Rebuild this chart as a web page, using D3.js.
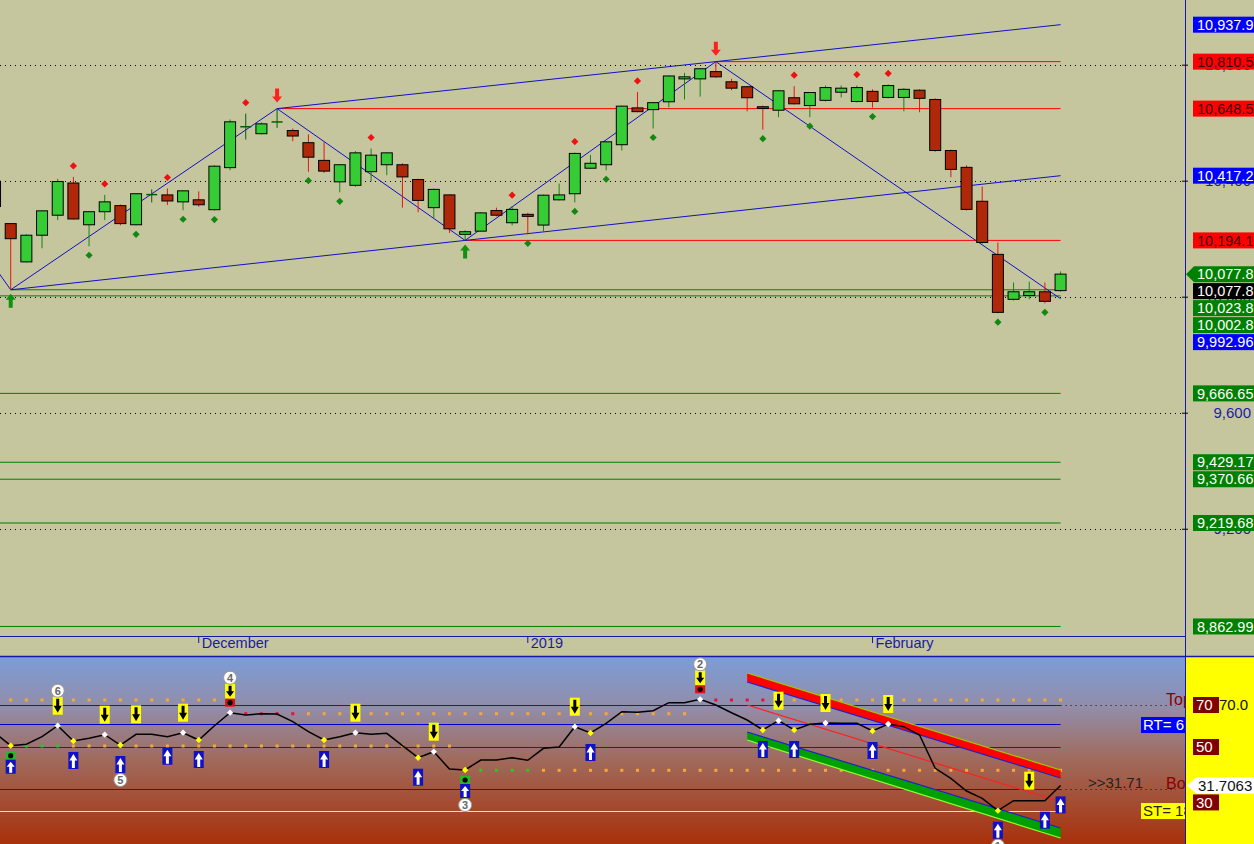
<!DOCTYPE html>
<html><head><meta charset="utf-8">
<script src="https://cdn.jsdelivr.net/npm/d3@7/dist/d3.min.js"></script>
<style>html,body{margin:0;padding:0;background:#c6c69e;overflow:hidden}svg{display:block;font-family:"Liberation Sans",Arial,sans-serif}</style>
</head><body><svg id="chart" width="1254" height="844"></svg>
<script>
// ---------------- DATA ----------------
const dates = ["2018-11-14","2018-11-15","2018-11-16","2018-11-19","2018-11-20","2018-11-21","2018-11-22","2018-11-23","2018-11-26","2018-11-27","2018-11-28","2018-11-29","2018-11-30",
"2018-12-03","2018-12-04","2018-12-05","2018-12-06","2018-12-07","2018-12-10","2018-12-11","2018-12-12","2018-12-13","2018-12-14","2018-12-17","2018-12-18","2018-12-19","2018-12-20","2018-12-21","2018-12-24","2018-12-25","2018-12-26","2018-12-27","2018-12-28","2018-12-31",
"2019-01-02","2019-01-03","2019-01-04","2019-01-07","2019-01-08","2019-01-09","2019-01-10","2019-01-11","2019-01-14","2019-01-15","2019-01-16","2019-01-17","2019-01-18","2019-01-21","2019-01-22","2019-01-23","2019-01-24","2019-01-25","2019-01-28","2019-01-29","2019-01-30","2019-01-31",
"2019-02-01","2019-02-04","2019-02-05","2019-02-06","2019-02-07","2019-02-08","2019-02-11","2019-02-12","2019-02-13","2019-02-14","2019-02-15","2019-02-18","2019-02-19"];
const opens  = [10311,10252,10120,10212,10281,10392,10248,10293,10314,10248,10351,10351,10327,10334,10300,10445,10585,10562,10601,10573,10531,10470,10396,10384,10431,10455,10455,10404,10307,10351,10215,10226,10297,10255,10284,10247,10334,10355,10443,10455,10524,10651,10645,10672,10751,10751,10776,10741,10724,10655,10643,10686,10659,10677,10705,10673,10708,10687,10687,10712,10680,10504,10446,10329,10146,9991,10004,10017,10021];
const highs  = [10405,10253,10215,10297,10406,10413,10294,10351,10318,10356,10370,10373,10366,10363,10453,10611,10631,10601,10648.5,10580,10560,10533,10456,10502,10511,10497,10460,10407,10373,10352,10229,10291,10307,10312,10289,10352,10390,10497,10489,10535,10659,10706,10670,10763,10772,10787,10810.5,10751,10726,10659,10712,10726,10705,10728,10728,10728,10715,10732,10719,10715,10684,10507,10453,10380,10187,10049,10052,10049,10087];
const lows   = [10306,10023.8,10118,10167,10264,10266,10174,10264,10246,10246,10325,10316,10298,10310,10297,10436,10542,10560,10582,10536,10431,10427,10360,10379,10398,10419,10307,10291,10272,10220,10194.1,10225,10277,10246,10215,10226,10332,10325,10442,10436,10504,10636,10580,10653,10680,10690,10755,10712,10639,10576,10619,10663,10619,10673,10687,10670,10652,10684,10639,10636,10500,10412,10297,10183,9943,9987,9991,9977,10017];
const closes = [10398,10200,10212,10296,10397,10268,10293,10327,10252,10355,10353,10330,10365,10317,10450,10603,10587,10596,10604,10554,10481,10433,10455,10496,10488,10496,10413,10332,10370,10234,10224,10289,10281,10301,10277,10350,10351,10494,10460,10534,10657,10638,10669,10761,10758,10786,10758,10719,10686,10649,10710,10665,10704,10721,10719,10721,10673,10728,10715,10684,10504,10439,10301,10187,9946,10017,10017,9984,10077.8];

// fractal markers (positions in dates[])
const highMarkIdx = [5,7,11,16,24,33,37,41,51,55,57];
const lowMarkIdx  = [6,9,12,14,20,22,34,37,39,42,49,52,56,64,67];
const pivotUpIdx = [1,30];
const pivotDownIdx = [18,46];

// zigzag & channel
const zigIdx = [0,1,18,30,46,68];
const zigVal = [10100,10023.8,10648.5,10194.1,10810.5,9992.96];
const chanLowIdx = [1,68], chanLowVal = [10023.8,10417.2];
const chanHighIdx = [18,68], chanHighVal = [10648.5,10937.9];
const redLevels = [10810.5,10648.5,10194.1];
const redLevelFrom = [46,18,30];
const greenLevels = [10023.8,10002.8,9666.65,9429.17,9370.66,9219.68,8862.99];
const greenLevelFrom = [1,0,0,0,0,0,0];
const priceTicks = [9200,9600,10000,10400,10800];
const dateTicks = ["2018-12-03","2019-01-02","2019-02-01"];
const dateTickLabels = ["December","2019","February"];

const labelVals  = [10937.9,10810.5,10648.5,10417.2,10194.1,10077.8,10077.8,10023.8,10002.8,9992.96,9666.65,9429.17,9370.66,9219.68,8862.99];
const labelTexts = ["10,937.9","10,810.5","10,648.5","10,417.2","10,194.1","10,077.8","10,077.8","10,023.8","10,002.8","9,992.96","9,666.65","9,429.17","9,370.66","9,219.68","8,862.99"];
const labelKinds = ["blue","red","red","blue","red","last","black","green","green","blue","green","green","green","green","green"];

// oscillator
const osc = [56.67,50.62,51.29,54.9,60.14,52.86,54.14,55.86,50.95,56.05,56.05,54.9,56.81,53.33,60.14,66.33,65.24,65.86,65.71,62.05,57.29,53.33,54.9,56.81,56.05,56.52,50.62,44.9,47.76,39.52,39.05,43.81,43.81,44.9,43.67,49.38,50,59.67,56.67,61.29,66.81,66.52,67.29,71.1,71.1,72.71,70,66.33,62.86,58.1,62.52,58.1,60.81,61.43,61.29,61.29,57.62,60.95,59.67,55.71,39.86,35.1,29.05,25.57,19.67,24.43,24.43,24.43,31.7063];
const oscPeakIdx = [4,7,12,15,23,28,37,45,50,53,57];
const oscTroughIdx = [1,5,8,13,21,27,30,38,49,51,56,64];
const sellIdx = [4,7,9,12,15,23,28,37,45,50,53,57,66];
const sellStrong = [15,45];
const buyIdx = [1,5,8,11,13,21,27,30,38,49,51,56,64,67,68];
const buyStrong = [1,30];
const countAbove = [[4,"6"],[15,"4"],[45,"2"]];
const countBelow = [[8,"5"],[30,"3"],[64,"1"]];
const upperLevel = [72.38,72.38,72.38,72.38,72.38,72.38,72.38,72.38,72.38,72.38,72.38,72.38,72.38,72.38,72.38,null,
 65.86,65.86,65.86,65.86,65.86,65.86,65.86,65.86,65.86,65.86,65.86,65.86,65.86,65.86,65.86,65.86,65.86,65.86,65.86,65.86,65.86,65.86,65.86,65.86,65.86,65.86,65.86,65.86,65.86,null,
 72.38,72.38,72.38,72.38,72.38,72.38,72.38,72.38,72.38,72.38,72.38,72.38,72.38,72.38,72.38,72.38,72.38,72.38,72.38,72.38,72.38,72.38,72.38];
const upperRed = [16,17,18,19,46,47,48,49];
const lowerLevel = [null,null,50.48,50.48,50.48,50.48,50.48,50.48,50.48,50.48,50.48,50.48,50.48,50.48,50.48,50.48,50.48,50.48,50.48,50.48,50.48,50.48,50.48,50.48,50.48,50.48,50.48,50.48,50.48,50.48,null,
 38.9,38.9,38.9,38.9,38.9,38.9,38.9,38.9,38.9,38.9,38.9,38.9,38.9,38.9,38.9,38.9,38.9,38.9,38.9,38.9,38.9,38.9,38.9,38.9,38.9,38.9,38.9,38.9,38.9,38.9,38.9,38.9,38.9,38.9,38.9,38.9,38.9,38.9];
const lowerGreen = [2,3,4,31,32,33,34];
const oscLines = [70,60.95,50,30,19.52];
const oscLineKinds = ["dred","blue","dred","dred","yellow"];
const bandIdx = [48,68];
const redBandTop = [85.24,39.05], redBandBot = [80.95,35.24];
const greenBandTop = [57.14,11.43], greenBandBot = [53.33,6.67];
const midLine = [70,23.95];

// ---------------- CHART ----------------
const svg = d3.select("#chart");
const PR = 1185, MB = 636, OT = 657, OB = 844;
const x = d3.scaleBand().domain(dates).range([-12.8,1068.4]).padding(0);
const cx = i => x(dates[i]) + x.bandwidth()/2;
const y = d3.scaleLinear().domain([8830.1,11023.0]).range([MB,0]);
const yo = d3.scaleLinear().domain([3.81,92.86]).range([OB,OT]);
const FONT = '"Liberation Sans",Arial,sans-serif';

const defs = svg.append("defs");
defs.append("clipPath").attr("id","cm").append("rect").attr("x",0).attr("y",0).attr("width",PR).attr("height",MB);
defs.append("clipPath").attr("id","co").append("rect").attr("x",0).attr("y",OT).attr("width",PR).attr("height",OB-OT);
const gr = defs.append("linearGradient").attr("id","og").attr("x1",0).attr("y1",0).attr("x2",0).attr("y2",1);
[[0,"#7b9dd9"],[0.28,"#938ca6"],[0.55,"#a06a5c"],[1,"#a8300a"]].forEach(s=>gr.append("stop").attr("offset",s[0]).attr("stop-color",s[1]));

svg.append("rect").attr("width",1254).attr("height",844).attr("fill","#c6c69e");
svg.append("rect").attr("x",0).attr("y",OT).attr("width",PR).attr("height",OB-OT).attr("fill","url(#og)");
svg.append("rect").attr("x",PR).attr("y",OT).attr("width",1254-PR).attr("height",OB-OT).attr("fill","#ffff00");

// ---- main panel
const gm = svg.append("g").attr("clip-path","url(#cm)");
greenLevels.forEach((v,i)=>gm.append("line").attr("x1",cx(greenLevelFrom[i])).attr("x2",cx(68)).attr("y1",y(v)).attr("y2",y(v)).attr("stroke","#008000").attr("stroke-width",1));
redLevels.forEach((v,i)=>gm.append("line").attr("x1",cx(redLevelFrom[i])).attr("x2",cx(68)).attr("y1",y(v)).attr("y2",y(v)).attr("stroke","#ff0000").attr("stroke-width",1));
priceTicks.forEach(v=>gm.append("line").attr("x1",0).attr("x2",PR).attr("y1",Math.round(y(v))+0.5).attr("y2",Math.round(y(v))+0.5).attr("stroke","#000").attr("stroke-dasharray","1,4"));

const line = d3.line().x(d=>cx(d[0])).y(d=>y(d[1]));
gm.append("path").attr("d",line(chanLowIdx.map((k,i)=>[k,chanLowVal[i]]))).attr("stroke","#1010c8").attr("fill","none");
gm.append("path").attr("d",line(chanHighIdx.map((k,i)=>[k,chanHighVal[i]]))).attr("stroke","#1010c8").attr("fill","none");
gm.append("path").attr("d",line(zigIdx.map((k,i)=>[k,zigVal[i]]))).attr("stroke","#1010c8").attr("fill","none");

const bw = 11;
dates.forEach((d,i)=>{
  const o=opens[i], c=closes[i], h=highs[i], l=lows[i];
  const up = c>=o;
  const X = cx(i);
  const yt = y(Math.max(o,c)), yb = y(Math.min(o,c));
  if (yb-yt < 1.2) {
    gm.append("line").attr("x1",X).attr("x2",X).attr("y1",y(h)).attr("y2",y(l)).attr("stroke","#006000");
    gm.append("line").attr("x1",X-bw/2).attr("x2",X+bw/2).attr("y1",(yt+yb)/2).attr("y2",(yt+yb)/2).attr("stroke","#006000").attr("stroke-width",1.5);
  } else {
    gm.append("line").attr("x1",X).attr("x2",X).attr("y1",y(h)).attr("y2",y(l)).attr("stroke",up?"#118811":"#ee1111");
    gm.append("rect").attr("x",X-bw/2).attr("y",yt).attr("width",bw).attr("height",yb-yt)
      .attr("fill",up?"#35cc35":"#b0280a").attr("stroke","#000").attr("stroke-width",1);
  }
});
const dotSym = d3.symbol().type(d3.symbolSquare).size(26);
const smallSym = d3.symbol().type(d3.symbolSquare).size(20);
highMarkIdx.forEach(i=>gm.append("path").attr("d",dotSym).attr("transform",`translate(${cx(i)},${y(highs[i])-11}) rotate(45)`).attr("fill","#ee1111"));
lowMarkIdx.forEach(i=>gm.append("path").attr("d",dotSym).attr("transform",`translate(${cx(i)},${y(lows[i])+9}) rotate(45)`).attr("fill","#118811"));
const upArrow = (X,t)=>`M${X},${t}L${X+5},${t+6}L${X+2},${t+6}L${X+2},${t+14}L${X-2},${t+14}L${X-2},${t+6}L${X-5},${t+6}Z`;
const dnArrow = (X,t)=>`M${X},${t}L${X+5},${t-6}L${X+2},${t-6}L${X+2},${t-14}L${X-2},${t-14}L${X-2},${t-6}L${X-5},${t-6}Z`;
pivotUpIdx.forEach(i=>gm.append("path").attr("d",upArrow(cx(i),y(lows[i])+4)).attr("fill","#119011"));
pivotDownIdx.forEach(i=>gm.append("path").attr("d",dnArrow(cx(i),y(highs[i])-6)).attr("fill","#ff2020"));

// frame lines
svg.append("line").attr("x1",0).attr("x2",PR).attr("y1",MB+0.5).attr("y2",MB+0.5).attr("stroke","#1818a8");
svg.append("line").attr("x1",0).attr("x2",1254).attr("y1",656.5).attr("y2",656.5).attr("stroke","#1818a8").attr("stroke-width",1.5);
svg.append("line").attr("x1",PR+0.5).attr("x2",PR+0.5).attr("y1",0).attr("y2",844).attr("stroke","#1818a8");

// price axis
const yAxis = d3.axisRight(y).tickValues(priceTicks).tickFormat(d3.format(",")).tickSize(6);
const gy = svg.append("g").attr("transform","translate(1182,0)").call(yAxis);
gy.select(".domain").remove();
gy.selectAll(".tick line").attr("stroke","#000");
gy.selectAll(".tick text").attr("x",69).attr("text-anchor","end").attr("fill","#1a1ab0").style("font-size","15px").style("font-family",FONT);

// date axis
const xAxis = d3.axisBottom(x).tickValues(dateTicks).tickFormat((d,i)=>dateTickLabels[i]).tickSize(6);
const gx = svg.append("g").attr("transform","translate(0,637)").call(xAxis);
gx.select(".domain").remove();
gx.selectAll(".tick line").attr("stroke","#1818a8");
gx.selectAll(".tick text").attr("text-anchor","start").attr("x",3).attr("y",1).attr("dy","0.71em").attr("fill","#1a1aa8").style("font-size","14.5px").style("font-family",FONT);

// price labels with collision push
const kindStyle = {blue:["#0000ff","#ffffff"],red:["#ff0000","#3a0000"],green:["#008000","#ffffff"],black:["#000000","#ffffff"],last:["#008000","#ffffff"]};
let lastY = -1e9;
const placed = labelVals.map((v,i)=>({v,i,y:y(v)})).sort((a,b)=>a.y-b.y);
placed.forEach(p=>{ if (p.y < lastY+17) p.y = lastY+17; lastY = p.y; });
placed.forEach(p=>{
  const [bg,fg] = kindStyle[labelKinds[p.i]];
  const yc = p.y;
  if (labelKinds[p.i]==="last") {
    svg.append("path").attr("d",`M${PR+1},${yc}L1194,${yc-8}L1254,${yc-8}L1254,${yc+8}L1194,${yc+8}Z`).attr("fill",bg);
  } else {
    svg.append("rect").attr("x",1193).attr("y",yc-8).attr("width",61).attr("height",16).attr("fill",bg);
  }
  svg.append("text").attr("x",1197).attr("y",yc).attr("dy","0.36em").attr("fill",fg).style("font-size","14.5px").style("font-family",FONT).text(labelTexts[p.i]);
});

// ---- oscillator panel
const go = svg.append("g").attr("clip-path","url(#co)");
const oscCol = {dred:"#8a0000",blue:"#0000d0",yellow:"#ffff00"};
oscLines.forEach((v,i)=>go.append("line").attr("x1",0).attr("x2",cx(68)).attr("y1",Math.round(yo(v))+0.5).attr("y2",Math.round(yo(v))+0.5).attr("stroke",oscCol[oscLineKinds[i]]).attr("stroke-width",1.2));
[70,30].forEach(v=>go.append("line").attr("x1",cx(68)).attr("x2",1176).attr("y1",Math.round(yo(v))+0.5).attr("y2",Math.round(yo(v))+0.5).attr("stroke","#111").attr("stroke-dasharray","1,4"));

upperLevel.forEach((v,i)=>{ if(v===null) return;
  go.append("rect").attr("x",cx(i)-1.5).attr("y",yo(v)-1.5).attr("width",3).attr("height",3).attr("fill",upperRed.includes(i)?"#e8103a":"#f8a830"); });
lowerLevel.forEach((v,i)=>{ if(v===null) return;
  go.append("rect").attr("x",cx(i)-1.5).attr("y",yo(v)-1.5).attr("width",3).attr("height",3).attr("fill",lowerGreen.includes(i)?"#22cc22":"#f8a830"); });

const band = (top,bot,fill,topC,botC)=>{
  const x0=cx(bandIdx[0]), x1=cx(bandIdx[1]);
  go.append("path").attr("d",`M${x0},${yo(top[0])}L${x1},${yo(top[1])}L${x1},${yo(bot[1])}L${x0},${yo(bot[0])}Z`).attr("fill",fill);
  go.append("line").attr("x1",x0).attr("x2",x1).attr("y1",yo(top[0])).attr("y2",yo(top[1])).attr("stroke",topC).attr("stroke-width",1.2);
  go.append("line").attr("x1",x0).attr("x2",x1).attr("y1",yo(bot[0])).attr("y2",yo(bot[1])).attr("stroke",botC).attr("stroke-width",1.2);
};
band(redBandTop,redBandBot,"#ff0000","#9ccc00","#2020d0");
band(greenBandTop,greenBandBot,"#00a000","#2020d0","#90ff30");
go.append("line").attr("x1",cx(bandIdx[0])).attr("x2",cx(bandIdx[1])).attr("y1",yo(midLine[0])).attr("y2",yo(midLine[1])).attr("stroke","#ff2020").attr("stroke-width",1.2);

go.append("path").attr("d",d3.line().x((d,i)=>cx(i)).y(d=>yo(d))(osc)).attr("fill","none").attr("stroke","#000").attr("stroke-width",1.5);
oscPeakIdx.forEach(i=>go.append("path").attr("d",smallSym).attr("transform",`translate(${cx(i)},${yo(osc[i])}) rotate(45)`).attr("fill","#ffffff"));
oscTroughIdx.forEach(i=>go.append("path").attr("d",smallSym).attr("transform",`translate(${cx(i)},${yo(osc[i])}) rotate(45)`).attr("fill","#ffff00"));

const sellArrow=(X,t,b)=>{const m=(t+b)/2+1;return `M${X-1.5},${t+2}L${X+1.5},${t+2}L${X+1.5},${m-1}L${X+4},${m-1}L${X},${b-2}L${X-4},${m-1}L${X-1.5},${m-1}Z`;};
const buyArrow=(X,t,b)=>{const m=(t+b)/2-1;return `M${X-1.5},${b-1}L${X+1.5},${b-1}L${X+1.5},${m+1}L${X+4},${m+1}L${X},${t+2}L${X-4},${m+1}L${X-1.5},${m+1}Z`;};
sellIdx.forEach(i=>{
  const X=cx(i), p=yo(osc[i]);
  if (sellStrong.includes(i)) {
    go.append("rect").attr("x",X-5).attr("y",p-29).attr("width",10).attr("height",15).attr("fill","#ffff00");
    go.append("path").attr("d",sellArrow(X,p-29,p-14)).attr("fill","#000");
    go.append("rect").attr("x",X-5).attr("y",p-14).attr("width",10).attr("height",8).attr("fill","#dd1111");
    go.append("circle").attr("cx",X).attr("cy",p-10).attr("r",2.6).attr("fill","#000");
  } else {
    go.append("rect").attr("x",X-5).attr("y",p-29).attr("width",10).attr("height",18).attr("fill","#ffff00");
    go.append("path").attr("d",sellArrow(X,p-29,p-11)).attr("fill","#000");
  }
});
buyIdx.forEach(i=>{
  const X=cx(i), p=yo(osc[i]);
  if (buyStrong.includes(i)) {
    go.append("rect").attr("x",X-5).attr("y",p+6).attr("width",10).attr("height",8).attr("fill","#22bb22");
    go.append("circle").attr("cx",X).attr("cy",p+10).attr("r",2.6).attr("fill","#000");
    go.append("rect").attr("x",X-5).attr("y",p+14).attr("width",10).attr("height",14).attr("fill","#1010c8");
    go.append("path").attr("d",buyArrow(X,p+14,p+28)).attr("fill","#fff");
  } else {
    go.append("rect").attr("x",X-5).attr("y",p+11).attr("width",10).attr("height",17).attr("fill","#1010c8");
    go.append("path").attr("d",buyArrow(X,p+11,p+28)).attr("fill","#fff");
  }
});
const countMark=(i,t,dy)=>{
  const X=cx(i), Y=yo(osc[i])+dy;
  go.append("circle").attr("cx",X).attr("cy",Y).attr("r",6.5).attr("fill","#fff").attr("stroke","#999").attr("stroke-width",1);
  go.append("text").attr("x",X).attr("y",Y).attr("dy","0.36em").attr("text-anchor","middle").attr("fill","#666").style("font-size","11px").style("font-weight","bold").style("font-family",FONT).text(t);
};
countAbove.forEach(c=>countMark(c[0],c[1],-35));
countBelow.forEach(c=>countMark(c[0],c[1],35));

// left-side text tags
go.append("text").attr("x",1166).attr("y",yo(70)).attr("fill","#8a0000").style("font-size","16px").style("font-family",FONT).text("Top");
go.append("text").attr("x",1166).attr("y",yo(30)).attr("fill","#8a0000").style("font-size","16px").style("font-family",FONT).text("Bottom");
go.append("text").attr("x",1088).attr("y",yo(30)-1).attr("fill","#222").style("font-size","15px").style("font-family",FONT).text(">>31.71");
go.append("rect").attr("x",1141).attr("y",yo(60.95)-7).attr("width",50).attr("height",16).attr("fill","#0000ff");
go.append("text").attr("x",1143).attr("y",yo(60.95)+1).attr("dy","0.36em").attr("fill","#fff").style("font-size","15px").style("font-family",FONT).text("RT= 61");
go.append("rect").attr("x",1141).attr("y",yo(19.52)-8).attr("width",50).attr("height",16).attr("fill","#ffff00");
go.append("text").attr("x",1143).attr("y",yo(19.52)).attr("dy","0.36em").attr("fill","#222").style("font-size","15px").style("font-family",FONT).text("ST= 18");

// right strip osc labels
const oy = v=>yo(v);
svg.append("text").attr("x",1219).attr("y",oy(70)).attr("dy","0.36em").attr("fill","#111").style("font-size","15px").style("font-family",FONT).text("70.0");
const oscBox=(yc,t)=>{svg.append("rect").attr("x",1193).attr("y",yc-8).attr("width",26).attr("height",16).attr("fill","#800000");
  svg.append("text").attr("x",1196).attr("y",yc).attr("dy","0.36em").attr("fill","#fff").style("font-size","15px").style("font-family",FONT).text(t);};
oscBox(oy(70),"70");
oscBox(oy(50),"50");
const lastOsc = osc[osc.length-1];
const ly = oy(lastOsc);
svg.append("path").attr("d",`M${PR+2},${ly}L1196,${ly-8}L1254,${ly-8}L1254,${ly+8}L1196,${ly+8}Z`).attr("fill","#ffffff");
svg.append("text").attr("x",1198).attr("y",ly).attr("dy","0.36em").attr("fill","#111").style("font-size","15px").style("font-family",FONT).text(d3.format(".4f")(lastOsc));
oscBox(Math.max(oy(30), ly+17),"30");
</script></body></html>
